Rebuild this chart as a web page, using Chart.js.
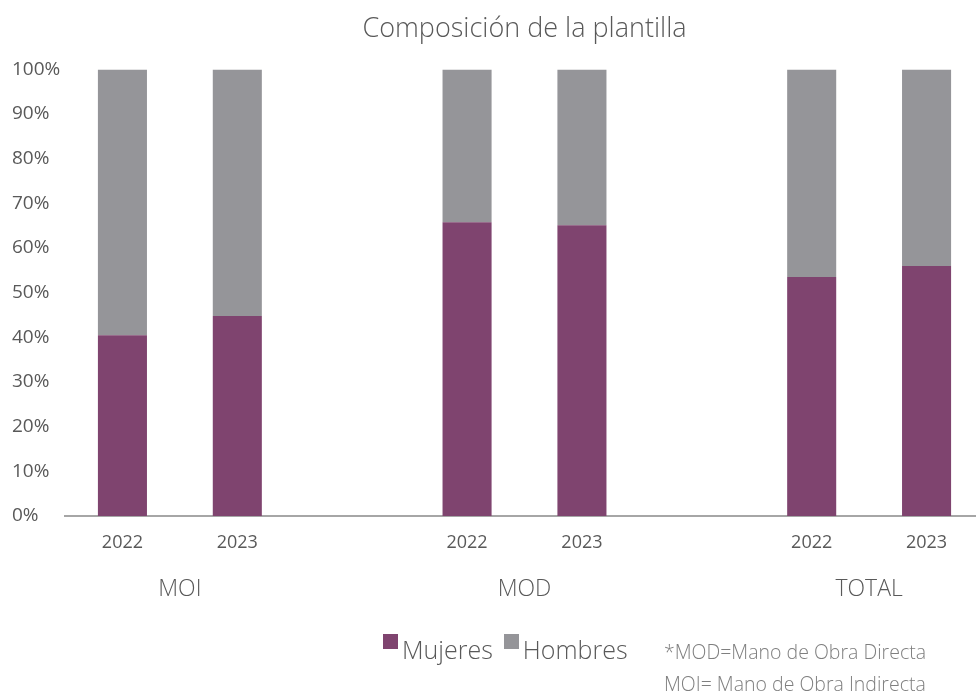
<!DOCTYPE html>
<html>
<head>
<meta charset="utf-8">
<script src="https://cdn.jsdelivr.net/npm/chart.js@4.4.1/dist/chart.umd.min.js"></script>
<style>
  html, body { margin: 0; padding: 0; background: #fff; overflow: hidden; }
  #wrap { position: relative; width: 984px; height: 695px; }
  #legend, #note { position: absolute; font-family: "Open Sans", sans-serif; font-weight: 300; }
  #legend { left: 383px; top: 632px; font-size: 25px; color: #595959; white-space: nowrap; }
  #legend .sw { display: inline-block; width: 15px; height: 15px; vertical-align: 10px; margin-right: 4px; }
  #legend .item { margin-right: 11px; }
  #note { left: 664px; top: 636px; font-size: 19.5px; color: #7f7f7f; line-height: 32px; }
</style>
</head>
<body>
<div id="wrap">
  <canvas id="chart" width="984" height="695"></canvas>
  <div id="legend"></div>
  <div id="note">*MOD=Mano de Obra Directa<br>MOI= Mano de Obra Indirecta</div>
</div>
<script>
  // data
  var years = ['2022', '2023', '', '2022', '2023', '', '2022', '2023'];
  var groups = ['MOI', 'MOD', 'TOTAL'];
  var groupPos = [0.5, 3.5, 6.5];
  var mujeres = [40.5, 44.8, null, 65.8, 65.1, null, 53.5, 56.0];
  var hombres = [59.5, 55.2, null, 34.2, 34.9, null, 46.5, 44.0];

  var purple = '#7f446f';
  var grey = '#959599';
  var textColor = '#595959';

  var legendEl = document.getElementById('legend');
  [['Mujeres', purple], ['Hombres', grey]].forEach(function (it) {
    var s = document.createElement('span');
    s.className = 'item';
    s.innerHTML = '<span class="sw" style="background:' + it[1] + '"></span>' + it[0];
    legendEl.appendChild(s);
  });

  var ctx = document.getElementById('chart');
  var chart = new Chart(ctx, {
    type: 'bar',
    data: {
      labels: years,
      datasets: [
        { label: 'Mujeres', data: mujeres, backgroundColor: purple },
        { label: 'Hombres', data: hombres, backgroundColor: grey }
      ]
    },
    options: {
      responsive: false,
      animation: false,
      layout: { padding: { left: 12, right: 0, top: 0, bottom: 83 } },
      datasets: { bar: { barPercentage: 0.427, categoryPercentage: 1 } },
      plugins: {
        legend: { display: false },
        tooltip: { enabled: false },
        title: {
          display: true,
          text: 'Composición de la plantilla',
          fullSize: false,
          color: textColor,
          font: { family: 'Open Sans', size: 27, weight: '300' },
          padding: { top: 13, bottom: 24 }
        }
      },
      scales: {
        x: {
          stacked: true,
          grid: { display: false },
          border: { display: true, color: '#a6a6a6', width: 2 },
          ticks: { color: textColor, padding: 8, font: { family: 'Open Sans', size: 18 } },
          afterFit: function (s) { s.height = 46; }
        },
        x2: {
          type: 'linear',
          position: 'bottom',
          offset: false,
          min: -0.5,
          max: 7.5,
          grid: { display: false, offset: false },
          border: { display: false },
          afterBuildTicks: function (s) {
            s.ticks = groupPos.map(function (v) { return { value: v }; });
          },
          ticks: {
            autoSkip: false,
            color: textColor,
            padding: 6,
            font: { family: 'Open Sans', size: 23, weight: '300' },
            callback: function (v) { return groups[groupPos.indexOf(v)]; }
          },
          afterFit: function (s) { s.height = 50; }
        },
        y: {
          stacked: true,
          min: 0,
          max: 100,
          grid: { display: false },
          border: { display: false },
          ticks: {
            stepSize: 10,
            crossAlign: 'far',
            color: textColor,
            font: { family: 'Open Sans', size: 19 },
            callback: function (v) { return v + '%'; }
          },
          afterFit: function (s) { s.width = 53; }
        }
      }
    }
  });
</script>
</body>
</html>
